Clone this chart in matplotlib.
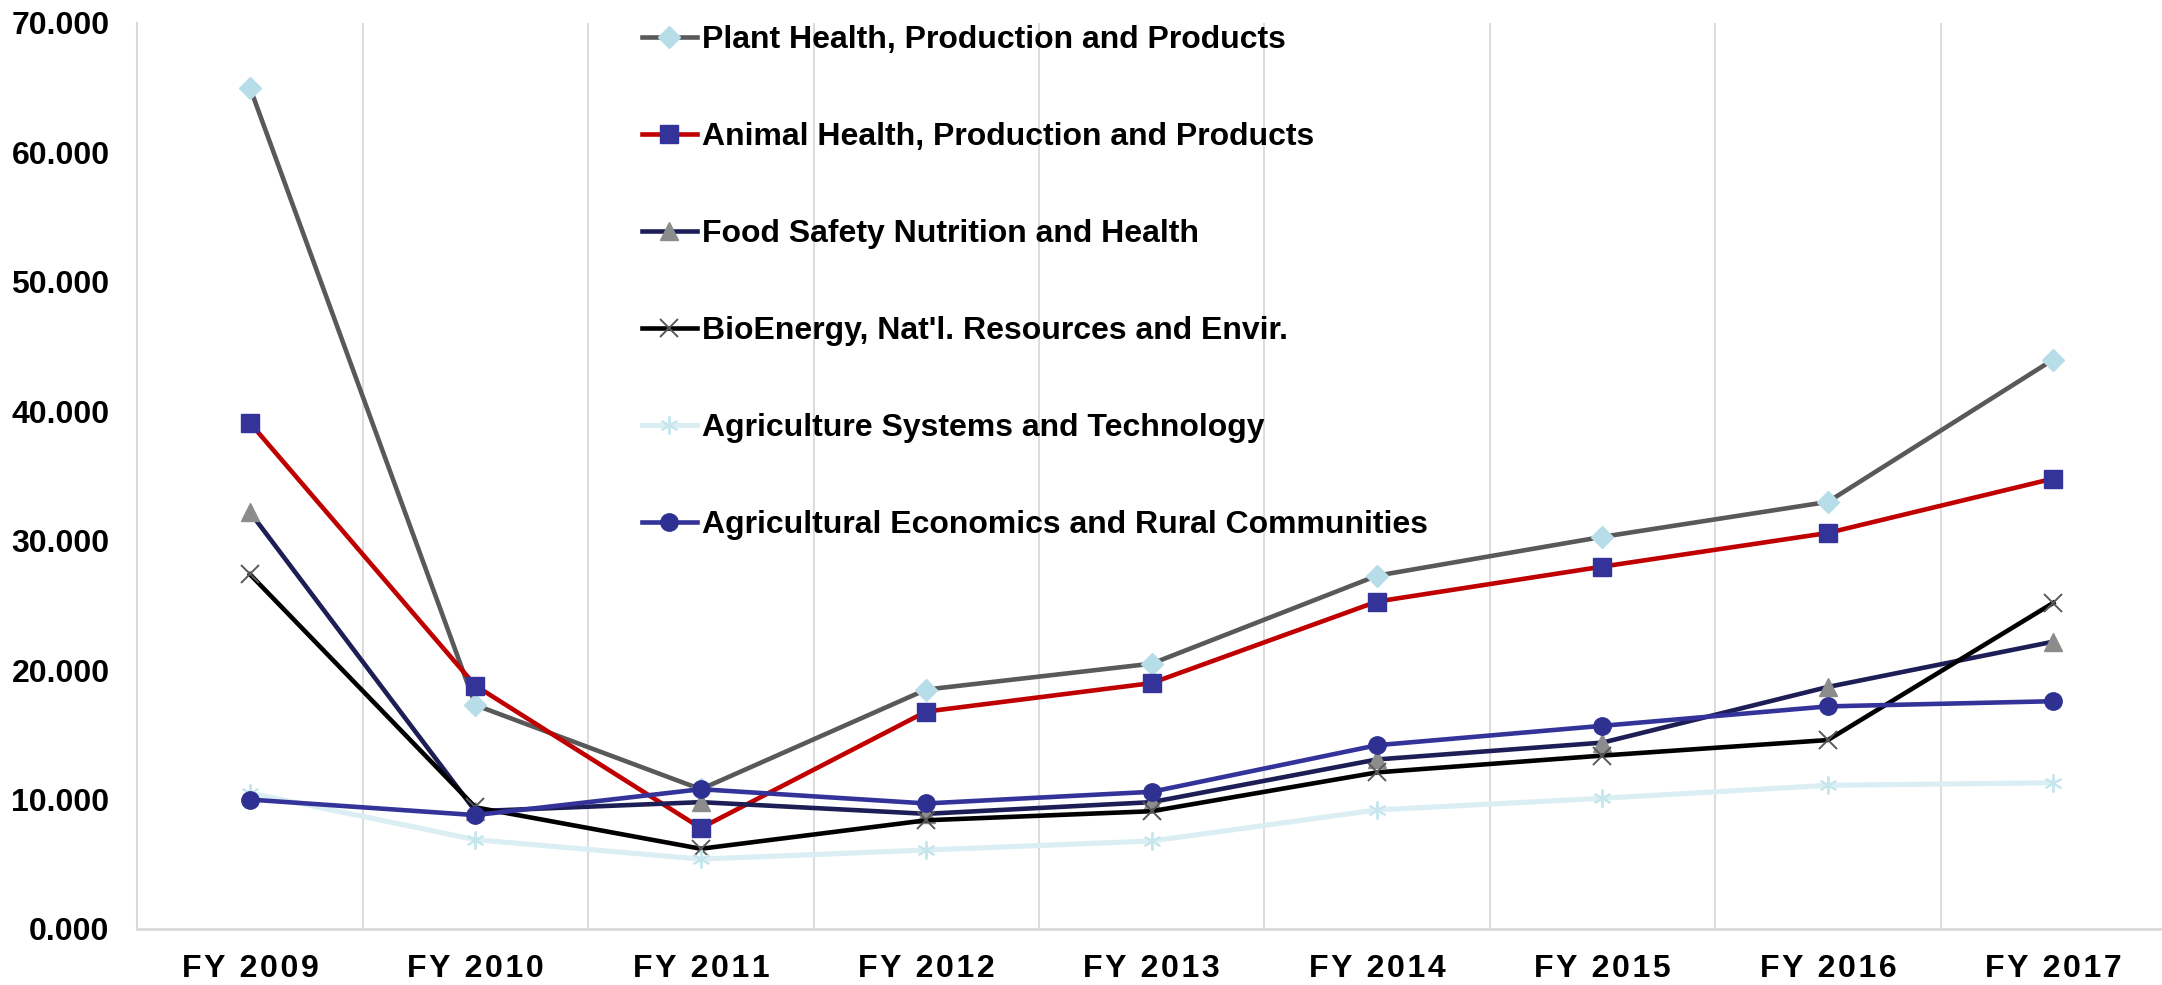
import matplotlib
matplotlib.use("Agg")
import matplotlib.pyplot as plt

categories = ["FY 2009", "FY 2010", "FY 2011", "FY 2012", "FY 2013",
              "FY 2014", "FY 2015", "FY 2016", "FY 2017"]
series_names = [
    "Plant Health, Production and Products",
    "Animal Health, Production and Products",
    "Food Safety Nutrition and Health",
    "BioEnergy, Nat'l. Resources and Envir.",
    "Agriculture Systems and Technology",
    "Agricultural Economics and Rural Communities",
]
plant = [65.0, 17.3, 10.8, 18.5, 20.5, 27.3, 30.3, 33.0, 44.0]
animal = [39.1, 18.8, 7.8, 16.8, 19.0, 25.3, 28.0, 30.6, 34.8]
food = [32.2, 9.1, 9.8, 8.9, 9.8, 13.1, 14.4, 18.7, 22.2]
bio = [27.4, 9.4, 6.2, 8.4, 9.1, 12.1, 13.4, 14.6, 25.2]
agsys = [10.5, 6.9, 5.4, 6.1, 6.8, 9.2, 10.1, 11.1, 11.3]
agecon = [10.0, 8.8, 10.8, 9.7, 10.6, 14.2, 15.7, 17.2, 17.6]
yticks = [0, 10, 20, 30, 40, 50, 60, 70]

plt.rcParams['font.family'] = ['Liberation Sans', 'DejaVu Sans']
plt.rcParams['font.weight'] = 'bold'

W, H = 2162, 985
fig = plt.figure(figsize=(W / 100, H / 100), dpi=100)
left_px, right_px, top_px, bot_px = 137.3, 2166.0, 23.0, 929.0
ax = fig.add_axes([left_px / W, 1 - bot_px / H, (right_px - left_px) / W, (bot_px - top_px) / H])

styles = [
    dict(color="#595959", lw=3.3, marker="D", mfc="#B7DEE8", mec="#B7DEE8", ms=11),
    dict(color="#C00000", lw=3.3, marker="s", mfc="#333399", mec="#333399", ms=13),
    dict(color="#1E1E56", lw=3.3, marker="^", mfc="#8C8C8C", mec="#8C8C8C", ms=13),
    dict(color="#000000", lw=3.3, marker="x", mfc="#595959", mec="#595959", ms=12.5, mew=1.4),
    dict(color="#DAEEF3", lw=3.7, marker=(6, 2, 0), mfc="#C6E6EE", mec="#C6E6EE", ms=13, mew=1.4),
    dict(color="#333399", lw=3.3, marker="o", mfc="#2E3192", mec="#2E3192", ms=12.5),
]
data = [plant, animal, food, bio, agsys, agecon]
x = list(range(len(categories)))
handles = []
for vals, name, st in zip(data, series_names, styles):
    ln, = ax.plot(x, vals, label=name, solid_joinstyle='round', **st)
    handles.append(ln)

ax.set_xlim(-0.5, len(categories) - 0.5)
ax.set_ylim(0, 70)
ax.set_yticks(yticks)
ax.set_yticklabels([f"{v:.3f}" for v in yticks])
hs = "\u200a"
ax.set_xticks(x)
ax.set_xticklabels([hs.join(list(c)) for c in categories])
ax.tick_params(axis='both', length=0, labelsize=23, pad=20)
ax.tick_params(axis='x', pad=18)
for lab in ax.get_xticklabels() + ax.get_yticklabels():
    lab.set_fontweight('bold')

for xv in [i + 0.5 for i in range(len(categories) - 1)]:
    ax.axvline(xv, color="#D9D9D9", lw=1.3, zorder=0)
for s in ['top', 'right']:
    ax.spines[s].set_visible(False)
ax.spines['left'].set_color("#D9D9D9")
ax.spines['bottom'].set_color("#D9D9D9")
ax.spines['left'].set_linewidth(1.5)
ax.spines['bottom'].set_linewidth(2)

leg = fig.legend(handles=handles, loc='upper left',
                 bbox_to_anchor=(642 / W, 1 - 25 / H),
                 frameon=False, fontsize=23, handlelength=1.72,
                 handletextpad=0.16, labelspacing=2.1, borderaxespad=0,
                 borderpad=0, markerscale=1.0)
for t in leg.get_texts():
    t.set_fontweight('bold')

fig.savefig("out.png", dpi=100)
